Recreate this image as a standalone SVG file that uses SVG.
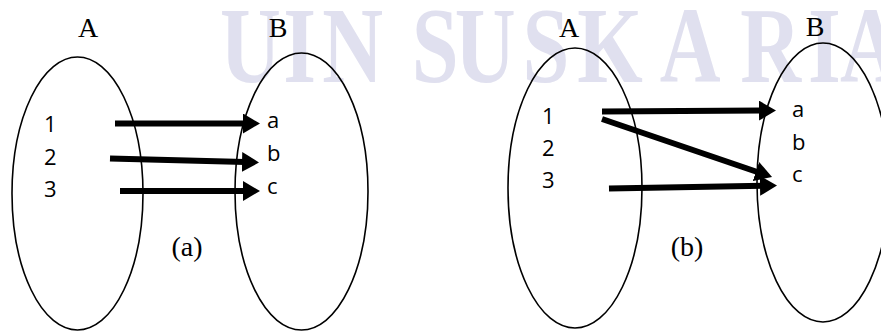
<svg xmlns="http://www.w3.org/2000/svg" width="881" height="331" viewBox="0 0 881 331">
<style>
.set{fill:none;stroke:#000;stroke-width:1.6}
.lbl{font-family:"Liberation Serif","Times New Roman",serif;font-size:28px;fill:#000}
.el{font-family:"Open Sans","Liberation Sans",sans-serif;font-size:22px;fill:#000}
.arr{stroke:#000;stroke-width:6;fill:none;marker-end:url(#ah)}
.wm{font-family:"Liberation Serif","Times New Roman",serif;font-size:108px;font-weight:bold;fill:#e0e0ef}
</style>
<defs>
<marker id="ah" markerUnits="userSpaceOnUse" markerWidth="18" markerHeight="20" refX="3" refY="10" orient="auto">
<path d="M0,0 L17,10 L0,20 z" fill="#000"/>
</marker>
</defs>
<rect width="881" height="331" fill="#fff"/>
<g id="watermark">
<text class="wm" transform="scale(0.78,1)" y="82"><tspan x="282">U</tspan><tspan x="363">I</tspan><tspan x="413">N</tspan><tspan x="528">S</tspan><tspan x="583">U</tspan><tspan x="670">S</tspan><tspan x="740">K</tspan><tspan x="846">A</tspan><tspan x="949">R</tspan><tspan x="1036">I</tspan><tspan x="1077">A</tspan></text>
</g>
<g id="diagram-a">
<g id="a-setA">
<ellipse class="set" cx="77.5" cy="193.5" rx="65.5" ry="136.5"/>
<text class="lbl" x="88" y="37" text-anchor="middle">A</text>
<text class="el" x="44" y="132">1</text>
<text class="el" x="44" y="165">2</text>
<text class="el" x="44" y="197">3</text>
</g>
<g id="a-setB">
<ellipse class="set" cx="301.5" cy="191.5" rx="66.5" ry="138.5"/>
<text class="lbl" x="278" y="37" text-anchor="middle">B</text>
<text class="el" x="267" y="128">a</text>
<text class="el" x="267" y="161">b</text>
<text class="el" x="267" y="194">c</text>
</g>
<text id="a-caption" class="lbl" x="187" y="256" text-anchor="middle">(a)</text>
</g>
<g id="diagram-b">
<g id="b-setA">
<ellipse class="set" cx="575" cy="188" rx="67" ry="140"/>
<text class="lbl" x="569" y="37" text-anchor="middle">A</text>
<text class="el" x="542" y="124">1</text>
<text class="el" x="542" y="156">2</text>
<text class="el" x="542" y="188">3</text>
</g>
<g id="b-setB">
<ellipse class="set" cx="823" cy="182.5" rx="66" ry="139.5"/>
<text class="lbl" x="815" y="36" text-anchor="middle">B</text>
<text class="el" x="792" y="117">a</text>
<text class="el" x="792" y="150">b</text>
<text class="el" x="792" y="182">c</text>
</g>
<text id="b-caption" class="lbl" x="687" y="256" text-anchor="middle">(b)</text>
</g>
<g id="connectors">
<line class="arr" x1="115" y1="123.5" x2="246" y2="123.5"/>
<line class="arr" x1="110" y1="158.5" x2="245" y2="162.1"/>
<line class="arr" x1="120" y1="191" x2="246" y2="191"/>
<line class="arr" x1="602" y1="111.5" x2="762" y2="110.6"/>
<line class="arr" x1="602" y1="119" x2="758.8" y2="172.5"/>
<line class="arr" x1="609" y1="188.5" x2="763" y2="185.8"/>
</g>
</svg>
